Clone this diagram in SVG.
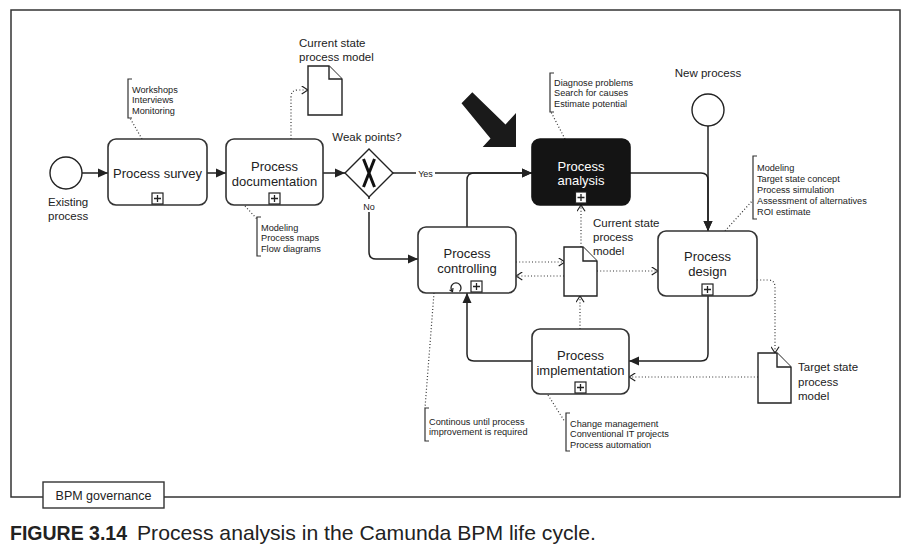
<svg xmlns="http://www.w3.org/2000/svg" width="910" height="548" viewBox="0 0 910 548">
<defs>
<style>
.frame{fill:none;stroke:#333;stroke-width:1.5}
.task{fill:#fff;stroke:#333;stroke-width:1.6}
.dark{fill:#141414;stroke:#141414;stroke-width:1.6}
.flow{fill:none;stroke:#222;stroke-width:1.5}
.assoc{fill:none;stroke:#333;stroke-width:1.2;stroke-dasharray:1 2.2}
.doc{fill:#fff;stroke:#222;stroke-width:1.4}
.brk{fill:none;stroke:#333;stroke-width:1.2}
.t{font-family:"Liberation Sans",Arial,sans-serif;fill:#222}
.node{font-size:13px;text-anchor:middle}
.lbl{font-size:11.5px}
.ann{font-size:9.2px}
.small{font-size:9px}
.pm rect{fill:#fff;stroke:#222;stroke-width:1.2}
.pm path{stroke:#222;stroke-width:1.3;fill:none}
</style>
<marker id="fa" viewBox="0 0 10 10" refX="10" refY="5" markerWidth="10" markerHeight="10" markerUnits="userSpaceOnUse" orient="auto">
<path d="M0,0.5 L10,5 L0,9.5 Z" fill="#222"/>
</marker>
<marker id="oa" viewBox="0 0 10 10" refX="9" refY="5" markerWidth="9" markerHeight="9" markerUnits="userSpaceOnUse" orient="auto">
<path d="M2,0.5 L9,5 L2,9.5" fill="none" stroke="#222" stroke-width="1.3"/>
</marker>
</defs>
<rect width="910" height="548" fill="#fff"/>

<!-- outer frame -->
<g id="governance">
<rect class="frame" x="11" y="10" width="889" height="487"/>
<rect x="43" y="482" width="121" height="26" fill="#fff" stroke="#333" stroke-width="1.4"/>
<text class="t" x="103.5" y="499.5" font-size="12.5" text-anchor="middle">BPM governance</text>
</g>

<!-- connectors -->
<g id="connectors">
<path class="flow" d="M82,173 H108" marker-end="url(#fa)"/>
<path class="flow" d="M207,173 H226" marker-end="url(#fa)"/>
<path class="flow" d="M323,173 H345" marker-end="url(#fa)"/>
<path class="flow" d="M393,173 H532" marker-end="url(#fa)"/>
<path class="flow" d="M369,197 V252 Q369,259 376,259 H418" marker-end="url(#fa)"/>
<path class="flow" d="M467,227 V180 Q467,173 474,173 H532" marker-end="url(#fa)"/>
<path class="flow" d="M630,173 H701 Q708,173 708,180 V231" marker-end="url(#fa)"/>
<path class="flow" d="M708,126 V231" marker-end="url(#fa)"/>
<path class="flow" d="M708,296 V354 Q708,361 701,361 H629" marker-end="url(#fa)"/>
<path class="flow" d="M532,361 H474 Q467,361 467,354 V293" marker-end="url(#fa)"/>

<path class="assoc" d="M291,139 V97 Q291,90 298,90 H308" marker-end="url(#oa)"/>
<path class="assoc" d="M581,247 V205" marker-end="url(#oa)"/>
<path class="assoc" d="M516,262 H565" marker-end="url(#oa)"/>
<path class="assoc" d="M564,276 H516" marker-end="url(#oa)"/>
<path class="assoc" d="M597,271 H658" marker-end="url(#oa)"/>
<path class="assoc" d="M580,329 V296" marker-end="url(#oa)"/>
<path class="assoc" d="M757,280 H768 Q775,280 775,287 V353" marker-end="url(#oa)"/>
<path class="assoc" d="M758,377 H629" marker-end="url(#oa)"/>

<path class="assoc" d="M142,139 L130,118"/>
<path class="assoc" d="M245,206 L257,219"/>
<path class="assoc" d="M565,139 L551,112"/>
<path class="assoc" d="M725,231 L753,200"/>
<path class="assoc" d="M434,293 L425,408"/>
<path class="assoc" d="M548,395 L565,422"/>

<rect x="416" y="166" width="19" height="13" fill="#fff"/>
<text class="t small" x="425.5" y="176.5" text-anchor="middle">Yes</text>
<rect x="361" y="199" width="16" height="13" fill="#fff"/>
<text class="t small" x="369" y="210" text-anchor="middle">No</text>
</g>

<!-- pointer arrow -->
<g id="pointer">
<path d="M472.3,92.3 L505.5,124.5 L516,113 L516,147 L482.7,147 L490.5,138.5 L461.5,103.3 Z" fill="#1a1a1a"/>
</g>

<g id="start-existing">
<circle cx="66" cy="173" r="16" fill="#fff" stroke="#222" stroke-width="1.4"/>
<text class="t lbl" x="48" y="206">Existing</text>
<text class="t lbl" x="48" y="220">process</text>
</g>

<g id="start-new">
<text class="t lbl" x="708" y="77" text-anchor="middle">New process</text>
<circle cx="708" cy="110" r="16" fill="#fff" stroke="#222" stroke-width="1.4"/>
</g>

<g id="process-survey">
<rect class="task" x="108" y="139" width="99" height="66" rx="8"/>
<text class="t node" x="157.5" y="177.5">Process survey</text>
<g class="pm"><rect x="152" y="193" width="11" height="11"/><path d="M157.5,195 V202 M154,198.5 H161"/></g>
</g>

<g id="process-documentation">
<rect class="task" x="226" y="139" width="97" height="66" rx="8"/>
<text class="t node" x="274.5" y="170.5">Process</text>
<text class="t node" x="274.5" y="185.5">documentation</text>
<g class="pm"><rect x="269" y="193" width="11" height="11"/><path d="M274.5,195 V202 M271,198.5 H278"/></g>
</g>

<g id="gateway">
<text class="t lbl" x="367" y="141" text-anchor="middle">Weak points?</text>
<polygon points="369,149 393,173 369,197 345,173" fill="#fff" stroke="#222" stroke-width="1.4"/>
<path d="M363.5,159 L374.5,187 M374.5,159 L363.5,187" stroke="#111" stroke-width="3" fill="none"/>
</g>

<g id="process-analysis">
<rect class="dark" x="532" y="139" width="98" height="66" rx="8"/>
<text class="t node" x="581" y="170.5" style="fill:#fff">Process</text>
<text class="t node" x="581" y="185" style="fill:#fff">analysis</text>
<g class="pm"><rect x="575.5" y="192" width="11" height="11"/><path d="M581,194 V201 M577.5,197.5 H584.5"/></g>
</g>

<g id="process-controlling">
<rect class="task" x="418" y="227" width="98" height="66" rx="8"/>
<text class="t node" x="467" y="257.5">Process</text>
<text class="t node" x="467" y="272.5">controlling</text>
<path d="M452.5,291.5 A5,5 0 1,1 459.5,291.5" fill="none" stroke="#222" stroke-width="1.3"/>
<path d="M449.5,290 L452.5,291.5 L453,288" fill="none" stroke="#222" stroke-width="1.2"/>
<g class="pm"><rect x="471" y="281" width="11" height="11"/><path d="M476.5,283 V290 M473,286.5 H480"/></g>
</g>

<g id="process-design">
<rect class="task" x="658" y="231" width="99" height="65" rx="8"/>
<text class="t node" x="707.5" y="261">Process</text>
<text class="t node" x="707.5" y="276">design</text>
<g class="pm"><rect x="702" y="284" width="11" height="11"/><path d="M707.5,286 V293 M704,289.5 H711"/></g>
</g>

<g id="process-implementation">
<rect class="task" x="532" y="329" width="97" height="65" rx="8"/>
<text class="t node" x="580.5" y="359.5">Process</text>
<text class="t node" x="580.5" y="374.5">implementation</text>
<g class="pm"><rect x="575" y="382" width="11" height="11"/><path d="M580.5,384 V391 M577,387.5 H584"/></g>
</g>

<g id="doc-current-top">
<text class="t lbl" x="299" y="47">Current state</text>
<text class="t lbl" x="299" y="61">process model</text>
<path class="doc" d="M308,66 H329 L342,79 V115 H308 Z"/>
<path class="doc" d="M329,66 V79 H342" fill="none"/>
</g>

<g id="doc-current-mid">
<text class="t lbl" x="593" y="227">Current state</text>
<text class="t lbl" x="593" y="241">process</text>
<text class="t lbl" x="593" y="254.5">model</text>
<path class="doc" d="M564,247 H583 L597,261 V296 H564 Z"/>
<path class="doc" d="M583,247 V261 H597" fill="none"/>
</g>

<g id="doc-target">
<path class="doc" d="M758,353 H777 L791,367 V403 H758 Z"/>
<path class="doc" d="M777,353 V367 H791" fill="none"/>
<text class="t lbl" x="798" y="371">Target state</text>
<text class="t lbl" x="798" y="385.5">process</text>
<text class="t lbl" x="798" y="399.5">model</text>
</g>

<g id="ann-survey">
<path class="brk" d="M132,79 H128 V118 H132"/>
<text class="t ann" x="132" y="92.5">Workshops</text>
<text class="t ann" x="132" y="103">Interviews</text>
<text class="t ann" x="132" y="113.5">Monitoring</text>
</g>

<g id="ann-documentation">
<path class="brk" d="M261,217 H257 V256 H261"/>
<text class="t ann" x="261" y="230.5">Modeling</text>
<text class="t ann" x="261" y="241">Process maps</text>
<text class="t ann" x="261" y="251.5">Flow diagrams</text>
</g>

<g id="ann-analysis">
<path class="brk" d="M554,73 H550 V112 H554"/>
<text class="t ann" x="554" y="85.5">Diagnose problems</text>
<text class="t ann" x="554" y="96">Search for causes</text>
<text class="t ann" x="554" y="106.5">Estimate potential</text>
</g>

<g id="ann-design">
<path class="brk" d="M757,156 H753 V219 H757"/>
<text class="t ann" x="757" y="170.5">Modeling</text>
<text class="t ann" x="757" y="181.5">Target state concept</text>
<text class="t ann" x="757" y="192.5">Process simulation</text>
<text class="t ann" x="757" y="203.5">Assessment of alternatives</text>
<text class="t ann" x="757" y="215">ROI estimate</text>
</g>

<g id="ann-controlling">
<path class="brk" d="M429,408 H425 V441 H429"/>
<text class="t ann" x="429" y="424.5">Continous until process</text>
<text class="t ann" x="429" y="435">improvement is required</text>
</g>

<g id="ann-implementation">
<path class="brk" d="M570,413 H566 V451 H570"/>
<text class="t ann" x="570" y="426.5">Change management</text>
<text class="t ann" x="570" y="437">Conventional IT projects</text>
<text class="t ann" x="570" y="447.5">Process automation</text>
</g>

<g id="caption">
<text class="t" x="10" y="540" font-size="21" font-weight="bold" textLength="117" lengthAdjust="spacingAndGlyphs">FIGURE 3.14</text>
<text class="t" x="137" y="540" font-size="21" textLength="459" lengthAdjust="spacingAndGlyphs">Process analysis in the Camunda BPM life cycle.</text>
</g>
</svg>
